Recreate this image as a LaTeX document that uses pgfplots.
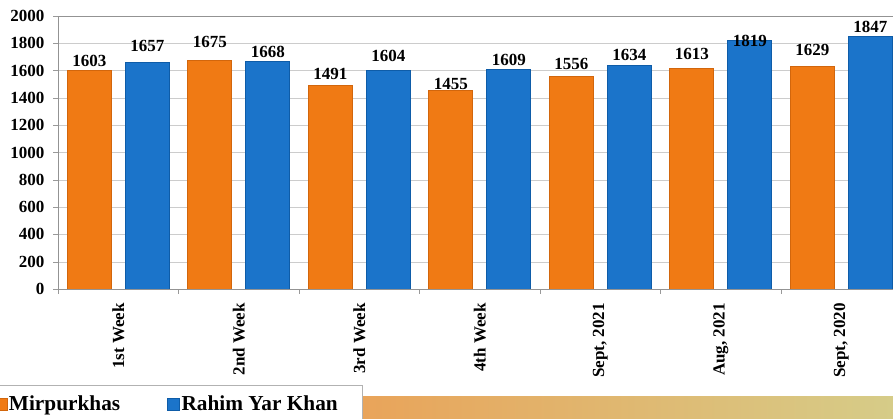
\documentclass[border=0pt]{standalone}
\usepackage{pgfplots}
\usepackage{pgfplotstable}
\pgfplotsset{compat=1.18}
\usepackage{fontspec}
\setmainfont{Liberation Serif}
\definecolor{orM}{HTML}{F07A14}
\definecolor{orD}{HTML}{D2660C}
\definecolor{blM}{HTML}{1B74CA}
\definecolor{blD}{HTML}{0E5CA8}
\definecolor{bandL}{HTML}{E9A45A}
\definecolor{bandR}{HTML}{D6CC88}
\pgfplotstableread{
x m r om or
0 1603 1657 3.5 11
1 1675 1668 12 3
2 1491 1604 5 8
3 1455 1609 0 3
4 1556 1634 6 5
5 1613 1819 9 -6
6 1629 1847 10.6 3.6
}\data
\begin{document}
\begin{tikzpicture}
\useasboundingbox (0bp,0bp) rectangle (893bp,419bp);
\clip (0bp,0bp) rectangle (893bp,419bp);
\shade[left color=bandL,right color=bandR] (362bp,0bp) rectangle (893bp,22bp);
\begin{axis}[
  at={(58bp,130bp)}, anchor=south west,
  scale only axis, width=843.5bp, height=273bp,
  xmin=-0.5, xmax=6.5, ymin=0, ymax=2000,
  ybar, bar width=44bp,
  ytick={0,200,...,2000},
  xtick={-0.5,0.5,...,6.5}, xticklabels={,,,,,,,,},
  extra x ticks={0,1,2,3,4,5,6},
  extra x tick labels={1st Week,2nd Week,3rd Week,4th Week,{Sept, 2021},{Aug, 2021},{Sept, 2020}},
  extra x tick style={major tick length=0pt, grid=none},
  xticklabel style={rotate=90, anchor=east, inner sep=0pt},
  xticklabel shift=14bp,
  yticklabel style={anchor=east, inner sep=0pt},
  yticklabel shift=9bp,
  tick align=outside, major tick length=4.5bp,
  xtick pos=bottom, ytick pos=left,
  tick style={gray!80},
  ymajorgrids, grid style={gray!40},
  axis line style={gray!85},
  ticklabel style={font=\bfseries\fontsize{17bp}{20bp}\selectfont},
  /pgf/number format/assume math mode=true,
  /pgf/number format/1000 sep={},
  legend image code/.code={\fill[#1] (0bp,-6bp) rectangle (12bp,6bp);},
  legend style={at={(0.3604,-0.3516)}, anchor=north east, draw=gray!60,
    inner xsep=22bp, inner ysep=9bp,
    font=\bfseries\fontsize{21.3bp}{24bp}\selectfont, legend columns=2,
    /tikz/every even column/.append style={column sep=45bp}},
]
\addlegendimage{fill=orM, draw=orD}
\addlegendentry{Mirpurkhas}
\addlegendimage{fill=blM, draw=blD}
\addlegendentry{Rahim Yar Khan}
\addplot[forget plot, fill=orM, draw=orD, line width=1bp, bar shift=-29bp,
  nodes near coords, point meta=explicit symbolic,
  visualization depends on={\thisrow{om}\as\off},
  every node near coord/.append style={anchor=south, inner sep=0pt, yshift=\off*1bp, text=black,
    font=\bfseries\fontsize{17bp}{20bp}\selectfont}]
  table[x=x, y=m, meta=m] {\data};
\addplot[forget plot, fill=blM, draw=blD, line width=1bp, bar shift=29bp,
  nodes near coords, point meta=explicit symbolic,
  visualization depends on={\thisrow{or}\as\off},
  every node near coord/.append style={anchor=south, inner sep=0pt, yshift=\off*1bp, text=black,
    font=\bfseries\fontsize{17bp}{20bp}\selectfont}]
  table[x=x, y=r, meta=r] {\data};
\end{axis}
\end{tikzpicture}
\end{document}
